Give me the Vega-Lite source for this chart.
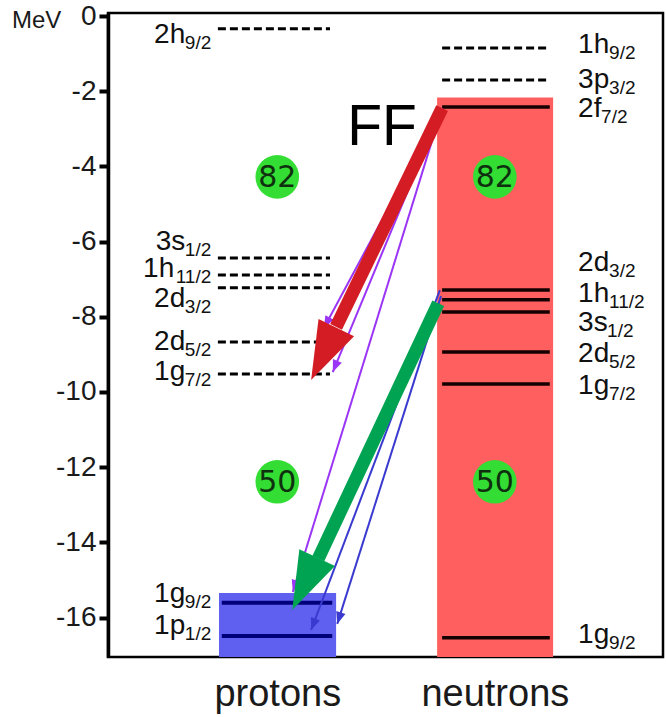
{
  "$schema": "https://vega.github.io/schema/vega-lite/v6.json",
  "width": 555,
  "height": 644,
  "autosize": {"type": "none"},
  "padding": {"left": 108, "top": 13, "right": 3, "bottom": 60},
  "background": "white",
  "config": {"view": {"stroke": "#000", "strokeWidth": 2.5}, "font": "Liberation Sans"},
  "resolve": {"axis": {"x": "independent", "y": "independent"}},
  "datasets": {
    "bands": [
      {"side": "p", "top": -15.35, "bottom": -17.05},
      {"side": "n", "top": -2.17, "bottom": -17.05}
    ],
    "levels": [
      {"side": "p", "main": "2h", "sub": "9/2", "occ": false, "E": -0.34, "LE": -0.72},
      {"side": "p", "main": "3s", "sub": "1/2", "occ": false, "E": -6.44, "LE": -6.22},
      {"side": "p", "main": "1h", "sub": "11/2", "occ": false, "E": -6.89, "LE": -6.94},
      {"side": "p", "main": "2d", "sub": "3/2", "occ": false, "E": -7.23, "LE": -7.74},
      {"side": "p", "main": "2d", "sub": "5/2", "occ": false, "E": -8.67, "LE": -8.88},
      {"side": "p", "main": "1g", "sub": "7/2", "occ": false, "E": -9.52, "LE": -9.68},
      {"side": "p", "main": "1g", "sub": "9/2", "occ": true, "E": -15.61, "LE": -15.59},
      {"side": "p", "main": "1p", "sub": "1/2", "occ": true, "E": -16.49, "LE": -16.44},
      {"side": "n", "main": "1h", "sub": "9/2", "occ": false, "E": -0.85, "LE": -0.98},
      {"side": "n", "main": "3p", "sub": "3/2", "occ": false, "E": -1.7, "LE": -1.91},
      {"side": "n", "main": "2f", "sub": "7/2", "occ": true, "E": -2.42, "LE": -2.69},
      {"side": "n", "main": "2d", "sub": "3/2", "occ": true, "E": -7.29, "LE": -6.78},
      {"side": "n", "main": "1h", "sub": "11/2", "occ": true, "E": -7.55, "LE": -7.62},
      {"side": "n", "main": "3s", "sub": "1/2", "occ": true, "E": -7.87, "LE": -8.37},
      {"side": "n", "main": "2d", "sub": "5/2", "occ": true, "E": -8.94, "LE": -9.2},
      {"side": "n", "main": "1g", "sub": "7/2", "occ": true, "E": -9.79, "LE": -10.05},
      {"side": "n", "main": "1g", "sub": "9/2", "occ": true, "E": -16.54, "LE": -16.68}
    ],
    "magic": [
      {"side": "p", "N": "82", "E": -4.28},
      {"side": "n", "N": "82", "E": -4.28},
      {"side": "p", "N": "50", "E": -12.39},
      {"side": "n", "N": "50", "E": -12.39}
    ],
    "thin": [
      {"type": "FF", "x1": 6.02, "y1": -2.45, "x2": 3.89, "y2": -8.3},
      {"type": "FF", "x1": 6.02, "y1": -2.45, "x2": 4.05, "y2": -9.47},
      {"type": "FF", "x1": 6.02, "y1": -2.45, "x2": 3.33, "y2": -15.32},
      {"type": "GT", "x1": 5.98, "y1": -7.29, "x2": 3.66, "y2": -16.33},
      {"type": "GT", "x1": 6.0, "y1": -7.45, "x2": 4.13, "y2": -16.17}
    ],
    "thick": [
      {"type": "FF", "x1": 6.02, "y1": -2.45, "bx": 4.11, "by": -8.27, "x2": 3.66, "y2": -9.68},
      {"type": "GT", "x1": 5.95, "y1": -7.64, "bx": 3.79, "by": -14.43, "x2": 3.32, "y2": -15.8}
    ],
    "unit": [{"unit": "MeV", "E": 0}]
  },
  "layer": [
    {
      "data": {"name": "bands"},
      "transform": [{"filter": "datum.side === 'n'"}],
      "mark": {"type": "rect", "color": "#ff5f5f"},
      "encoding": {
        "x": {
          "datum": 5.93, "type": "quantitative",
          "scale": {"domain": [0, 10], "nice": false, "zero": false},
          "axis": {
            "title": null, "values": [3.05, 6.97],
            "labelExpr": "datum.value < 5 ? 'protons' : 'neutrons'",
            "domain": false, "ticks": false, "tickSize": 0, "grid": false,
            "labelFontSize": 38, "labelFont": "Liberation Sans", "labelColor": "#1a1a1a",
            "labelBaseline": "alphabetic", "labelPadding": 48, "labelFlush": false, "labelOverlap": false
          }
        },
        "x2": {"datum": 8.02},
        "y": {
          "field": "top", "type": "quantitative",
          "scale": {"domain": [-17.05, 0.08], "nice": false, "zero": false},
          "axis": {
            "title": null,
            "values": [0, -2, -4, -6, -8, -10, -12, -14, -16],
            "labelExpr": "datum.value === 0 ? '0' : '-' + abs(datum.value)",
            "labelFontSize": 28, "labelFont": "Liberation Sans", "labelColor": "#1a1a1a",
            "labelPadding": 3, "tickSize": 9, "tickWidth": 4, "tickColor": "#000",
            "domainColor": "#000", "domainWidth": 3.5, "grid": false,
            "labelFlush": false, "labelOverlap": false
          }
        },
        "y2": {"field": "bottom"}
      }
    },
    {
      "data": {"name": "unit"},
      "mark": {"type": "text", "fontSize": 24, "font": "Liberation Sans", "color": "#1a1a1a", "align": "left", "baseline": "alphabetic", "dy": 12},
      "encoding": {
        "x": {"datum": -1.73, "type": "quantitative", "axis": null},
        "y": {"field": "E", "type": "quantitative", "axis": null},
        "text": {"field": "unit"}
      }
    },
    {
      "data": {"name": "bands"},
      "transform": [{"filter": "datum.side === 'p'"}],
      "mark": {"type": "rect", "color": "#6060f0"},
      "encoding": {
        "x": {"datum": 2.0, "type": "quantitative", "axis": null},
        "x2": {"datum": 4.11},
        "y": {"field": "top", "type": "quantitative", "axis": null},
        "y2": {"field": "bottom"}
      }
    },
    {
      "data": {"name": "levels"},
      "transform": [{"filter": "datum.side === 'p' && !datum.occ"}],
      "mark": {"type": "rule", "color": "#000", "strokeWidth": 3, "strokeDash": [8, 4]},
      "encoding": {
        "x": {"datum": 1.98, "type": "quantitative", "axis": null},
        "x2": {"datum": 4.0},
        "y": {"field": "E", "type": "quantitative", "axis": null}
      }
    },
    {
      "data": {"name": "levels"},
      "transform": [{"filter": "datum.side === 'n' && !datum.occ"}],
      "mark": {"type": "rule", "color": "#000", "strokeWidth": 3, "strokeDash": [8, 4]},
      "encoding": {
        "x": {"datum": 6.02, "type": "quantitative", "axis": null},
        "x2": {"datum": 7.96},
        "y": {"field": "E", "type": "quantitative", "axis": null}
      }
    },
    {
      "data": {"name": "levels"},
      "transform": [{"filter": "datum.side === 'p' && datum.occ"}],
      "mark": {"type": "rule", "color": "#00007a", "strokeWidth": 4},
      "encoding": {
        "x": {"datum": 2.05, "type": "quantitative", "axis": null},
        "x2": {"datum": 4.04},
        "y": {"field": "E", "type": "quantitative", "axis": null}
      }
    },
    {
      "data": {"name": "levels"},
      "transform": [{"filter": "datum.side === 'n' && datum.occ"}],
      "mark": {"type": "rule", "color": "#150000", "strokeWidth": 3.5},
      "encoding": {
        "x": {"datum": 6.02, "type": "quantitative", "axis": null},
        "x2": {"datum": 7.96},
        "y": {"field": "E", "type": "quantitative", "axis": null}
      }
    },
    {
      "data": {"name": "magic"},
      "transform": [{"filter": "datum.side === 'p'"}],
      "encoding": {
        "x": {"datum": 3.05, "type": "quantitative", "axis": null},
        "y": {"field": "E", "type": "quantitative", "axis": null}
      },
      "layer": [
        {"mark": {"type": "circle", "color": "#33dd33", "size": 1900, "opacity": 1}},
        {"mark": {"type": "text", "font": "DejaVu Sans", "fontSize": 30, "color": "#0f300f", "align": "center", "baseline": "middle", "dy": 1}, "encoding": {"text": {"field": "N"}}}
      ]
    },
    {
      "data": {"name": "magic"},
      "transform": [{"filter": "datum.side === 'n'"}],
      "encoding": {
        "x": {"datum": 6.97, "type": "quantitative", "axis": null},
        "y": {"field": "E", "type": "quantitative", "axis": null}
      },
      "layer": [
        {"mark": {"type": "circle", "color": "#33dd33", "size": 1900, "opacity": 1}},
        {"mark": {"type": "text", "font": "DejaVu Sans", "fontSize": 30, "color": "#0f300f", "align": "center", "baseline": "middle", "dy": 1}, "encoding": {"text": {"field": "N"}}}
      ]
    },
    {
      "data": {"name": "thin"},
      "transform": [
        {"calculate": "atan2((datum.x2 - datum.x1) * 55.5, (datum.y2 - datum.y1) * 37.6) * 180 / PI", "as": "ang"}
      ],
      "layer": [
        {
          "transform": [{"filter": "datum.type === 'FF'"}],
          "mark": {"type": "rule", "color": "#9b35f5", "strokeWidth": 2},
          "encoding": {
            "x": {"field": "x1", "type": "quantitative", "axis": null},
            "x2": {"field": "x2"},
            "y": {"field": "y1", "type": "quantitative", "axis": null},
            "y2": {"field": "y2"}
          }
        },
        {
          "transform": [{"filter": "datum.type === 'GT'"}],
          "mark": {"type": "rule", "color": "#3a3ad0", "strokeWidth": 2},
          "encoding": {
            "x": {"field": "x1", "type": "quantitative", "axis": null},
            "x2": {"field": "x2"},
            "y": {"field": "y1", "type": "quantitative", "axis": null},
            "y2": {"field": "y2"}
          }
        },
        {
          "transform": [{"filter": "datum.type === 'FF'"}],
          "mark": {"type": "point", "shape": "M0,0L0.4,1L-0.4,1Z", "filled": true, "size": 576, "color": "#9b35f5", "opacity": 1, "strokeWidth": 0},
          "encoding": {
            "x": {"field": "x2", "type": "quantitative", "axis": null},
            "y": {"field": "y2", "type": "quantitative", "axis": null},
            "angle": {"field": "ang", "type": "quantitative", "scale": null}
          }
        },
        {
          "transform": [{"filter": "datum.type === 'GT'"}],
          "mark": {"type": "point", "shape": "M0,0L0.4,1L-0.4,1Z", "filled": true, "size": 576, "color": "#3a3ad0", "opacity": 1, "strokeWidth": 0},
          "encoding": {
            "x": {"field": "x2", "type": "quantitative", "axis": null},
            "y": {"field": "y2", "type": "quantitative", "axis": null},
            "angle": {"field": "ang", "type": "quantitative", "scale": null}
          }
        }
      ]
    },
    {
      "data": {"name": "thick"},
      "transform": [
        {"calculate": "atan2((datum.x2 - datum.x1) * 55.5, (datum.y2 - datum.y1) * 37.6) * 180 / PI", "as": "ang"}
      ],
      "layer": [
        {
          "transform": [{"filter": "datum.type === 'FF'"}],
          "mark": {"type": "rule", "color": "#d41c24", "strokeWidth": 13, "strokeCap": "butt"},
          "encoding": {
            "x": {"field": "x1", "type": "quantitative", "axis": null},
            "x2": {"field": "bx"},
            "y": {"field": "y1", "type": "quantitative", "axis": null},
            "y2": {"field": "by"}
          }
        },
        {
          "transform": [{"filter": "datum.type === 'GT'"}],
          "mark": {"type": "rule", "color": "#00a352", "strokeWidth": 13, "strokeCap": "butt"},
          "encoding": {
            "x": {"field": "x1", "type": "quantitative", "axis": null},
            "x2": {"field": "bx"},
            "y": {"field": "y1", "type": "quantitative", "axis": null},
            "y2": {"field": "by"}
          }
        },
        {
          "transform": [{"filter": "datum.type === 'FF'"}],
          "mark": {"type": "point", "shape": "M0,0L0.34,1L-0.34,1Z", "filled": true, "size": 13456, "color": "#d41c24", "opacity": 1, "strokeWidth": 0},
          "encoding": {
            "x": {"field": "x2", "type": "quantitative", "axis": null},
            "y": {"field": "y2", "type": "quantitative", "axis": null},
            "angle": {"field": "ang", "type": "quantitative", "scale": null}
          }
        },
        {
          "transform": [{"filter": "datum.type === 'GT'"}],
          "mark": {"type": "point", "shape": "M0,0L0.34,1L-0.34,1Z", "filled": true, "size": 13456, "color": "#00a352", "opacity": 1, "strokeWidth": 0},
          "encoding": {
            "x": {"field": "x2", "type": "quantitative", "axis": null},
            "y": {"field": "y2", "type": "quantitative", "axis": null},
            "angle": {"field": "ang", "type": "quantitative", "scale": null}
          }
        },
        {
          "transform": [{"filter": "datum.type === 'FF'"}],
          "mark": {"type": "text", "fontSize": 57, "color": "#000", "align": "center", "baseline": "alphabetic", "dx": -60, "dy": 37},
          "encoding": {
            "x": {"field": "x1", "type": "quantitative", "axis": null},
            "y": {"field": "y1", "type": "quantitative", "axis": null},
            "text": {"field": "type"}
          }
        }
      ]
    },
    {
      "data": {"name": "levels"},
      "transform": [{"filter": "datum.side === 'p'"}],
      "encoding": {
        "x": {"datum": 1.86, "type": "quantitative", "axis": null},
        "y": {"field": "LE", "type": "quantitative", "axis": null}
      },
      "layer": [
        {
          "transform": [{"filter": "datum.sub !== '11/2'"}],
          "mark": {"type": "text", "fontSize": 28, "align": "right", "baseline": "alphabetic", "dx": -26, "color": "#111"},
          "encoding": {"text": {"field": "main"}}
        },
        {
          "transform": [{"filter": "datum.sub === '11/2'"}],
          "mark": {"type": "text", "fontSize": 28, "align": "right", "baseline": "alphabetic", "dx": -37, "color": "#111"},
          "encoding": {"text": {"field": "main"}}
        },
        {
          "mark": {"type": "text", "fontSize": 19, "align": "right", "baseline": "alphabetic", "dy": 6, "color": "#111"},
          "encoding": {"text": {"field": "sub"}}
        }
      ]
    },
    {
      "data": {"name": "levels"},
      "transform": [{"filter": "datum.side === 'n'"}],
      "encoding": {
        "x": {"datum": 8.47, "type": "quantitative", "axis": null},
        "y": {"field": "LE", "type": "quantitative", "axis": null}
      },
      "layer": [
        {
          "mark": {"type": "text", "fontSize": 28, "align": "left", "baseline": "alphabetic", "color": "#111"},
          "encoding": {"text": {"field": "main"}}
        },
        {
          "transform": [{"filter": "datum.main !== '2f' && datum.main !== '3s'"}],
          "mark": {"type": "text", "fontSize": 19, "align": "left", "baseline": "alphabetic", "dx": 31, "dy": 6, "color": "#111"},
          "encoding": {"text": {"field": "sub"}}
        },
        {
          "transform": [{"filter": "datum.main === '2f'"}],
          "mark": {"type": "text", "fontSize": 19, "align": "left", "baseline": "alphabetic", "dx": 23, "dy": 6, "color": "#111"},
          "encoding": {"text": {"field": "sub"}}
        },
        {
          "transform": [{"filter": "datum.main === '3s'"}],
          "mark": {"type": "text", "fontSize": 19, "align": "left", "baseline": "alphabetic", "dx": 29, "dy": 6, "color": "#111"},
          "encoding": {"text": {"field": "sub"}}
        }
      ]
    }
  ]
}
